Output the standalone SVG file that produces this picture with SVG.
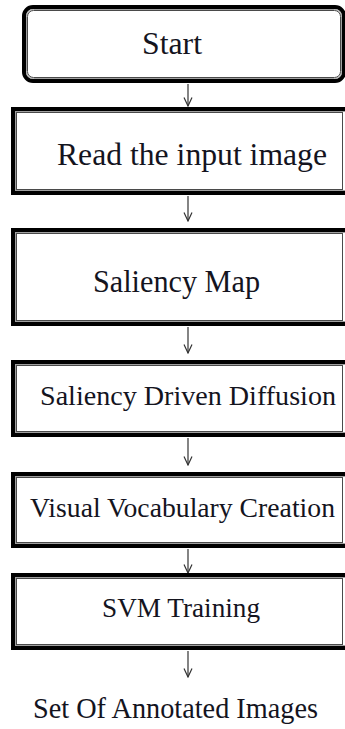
<svg xmlns="http://www.w3.org/2000/svg" width="345" height="729" viewBox="0 0 345 729">
  <defs>
    <style>
      .outer{fill:#fff;stroke:#000;stroke-width:4}
      .band{fill:none;stroke:#a0a0a0;stroke-width:1}
      .inner{fill:none;stroke:#4a4a4a;stroke-width:1}
      .lbl{fill:#14141e}
      .conn{stroke:#333;stroke-width:1.2;fill:none}
    </style>
    <marker id="arrow" viewBox="0 0 10 10" refX="9.5" refY="5" markerWidth="10" markerHeight="10" markerUnits="userSpaceOnUse" orient="auto">
      <path d="M1,1 L9.5,5 L1,9" fill="none" stroke="#333" stroke-width="1.2"/>
    </marker>
  </defs>

  <rect width="345" height="729" fill="#fff"/>

  <!-- connectors -->
  <g id="connectors">
    <line class="conn" x1="188" y1="84" x2="188" y2="106" marker-end="url(#arrow)"/>
    <line class="conn" x1="188" y1="196" x2="188" y2="221" marker-end="url(#arrow)"/>
    <line class="conn" x1="188" y1="327" x2="188" y2="353" marker-end="url(#arrow)"/>
    <line class="conn" x1="188" y1="438" x2="188" y2="465" marker-end="url(#arrow)"/>
    <line class="conn" x1="188" y1="549" x2="188" y2="573" marker-end="url(#arrow)"/>
    <line class="conn" x1="188" y1="651" x2="188" y2="677" marker-end="url(#arrow)"/>
  </g>

  <!-- all labels share one serif face -->
  <g font-family="Liberation Serif, DejaVu Serif, serif">
    <!-- start terminal -->
    <g id="start">
      <rect class="outer" x="24" y="7" width="320" height="74" rx="9"/>
      <rect class="band" x="26.5" y="9.5" width="315" height="69" rx="7"/>
      <rect class="inner" x="27.5" y="10.5" width="313" height="67" rx="6"/>
      <text class="lbl" x="142" y="54" font-size="31" textLength="60" lengthAdjust="spacingAndGlyphs">Start</text>
    </g>

    <g id="read-image">
      <rect class="outer" x="13" y="109" width="336" height="84"/>
      <rect class="band" x="15.5" y="111.5" width="331" height="79"/>
      <rect class="inner" x="16.5" y="112.5" width="326" height="77"/>
      <text class="lbl" x="57" y="165" font-size="31" textLength="270" lengthAdjust="spacingAndGlyphs">Read the input image</text>
    </g>

    <g id="saliency-map">
      <rect class="outer" x="13" y="230" width="336" height="94"/>
      <rect class="band" x="15.5" y="232.5" width="331" height="89"/>
      <rect class="inner" x="16.5" y="233.5" width="326" height="87"/>
      <text class="lbl" x="93" y="292" font-size="31" textLength="167" lengthAdjust="spacingAndGlyphs">Saliency Map</text>
    </g>

    <g id="diffusion">
      <rect class="outer" x="13" y="362" width="336" height="73"/>
      <rect class="band" x="15.5" y="364.5" width="331" height="68"/>
      <rect class="inner" x="16.5" y="365.5" width="326" height="66"/>
      <text class="lbl" x="40" y="405" font-size="28" textLength="296" lengthAdjust="spacingAndGlyphs">Saliency Driven Diffusion</text>
    </g>

    <g id="vocabulary">
      <rect class="outer" x="13" y="474" width="336" height="72"/>
      <rect class="band" x="15.5" y="476.5" width="331" height="67"/>
      <rect class="inner" x="16.5" y="477.5" width="326" height="65"/>
      <text class="lbl" x="30" y="517" font-size="27" textLength="305" lengthAdjust="spacingAndGlyphs">Visual Vocabulary Creation</text>
    </g>

    <g id="svm-training">
      <rect class="outer" x="13" y="575" width="336" height="73"/>
      <rect class="band" x="15.5" y="577.5" width="331" height="68"/>
      <rect class="inner" x="16.5" y="578.5" width="326" height="66"/>
      <text class="lbl" x="102" y="617" font-size="28" textLength="158" lengthAdjust="spacingAndGlyphs">SVM Training</text>
    </g>

    <g id="output">
      <text class="lbl" x="33" y="718" font-size="29" textLength="285" lengthAdjust="spacingAndGlyphs">Set Of Annotated Images</text>
    </g>
  </g>
</svg>
